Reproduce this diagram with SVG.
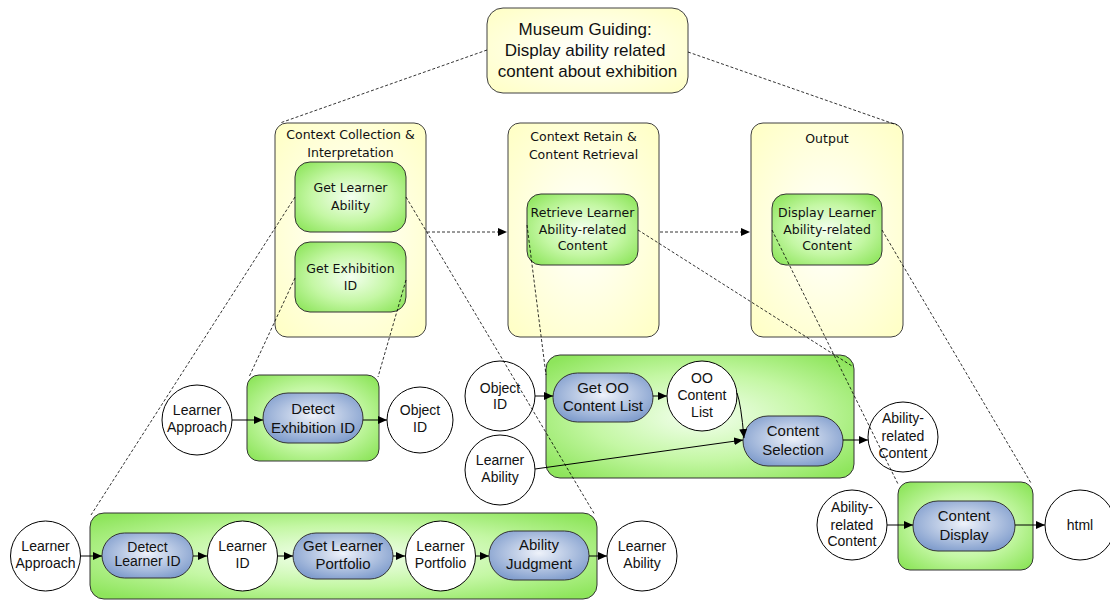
<svg xmlns="http://www.w3.org/2000/svg" width="1110" height="601" viewBox="0 0 1110 601">
  <defs>
    <radialGradient id="gYellow" cx="0.5" cy="0.5" r="0.7">
      <stop offset="0" stop-color="#ffffff"/>
      <stop offset="1" stop-color="#ffffc4"/>
    </radialGradient>
    <radialGradient id="gGreen" cx="0.5" cy="0.5" r="0.65">
      <stop offset="0" stop-color="#f4fff0"/>
      <stop offset="0.55" stop-color="#c4f7a4"/>
      <stop offset="1" stop-color="#8ee55c"/>
    </radialGradient>
    <radialGradient id="gBlue" cx="0.5" cy="0.45" r="0.6">
      <stop offset="0" stop-color="#eef2fa"/>
      <stop offset="1" stop-color="#7f9ccc"/>
    </radialGradient>
    <marker id="ah" viewBox="0 0 9 8" refX="9" refY="4" markerWidth="9" markerHeight="8" markerUnits="userSpaceOnUse" orient="auto">
      <path d="M0,0 L9,4 L0,8 z" fill="#000"/>
    </marker>
  </defs>
  <style>
    .yel { fill: url(#gYellow); stroke: #404040; stroke-width: 1; }
    .grn { fill: url(#gGreen); stroke: #333; stroke-width: 1; }
    .pill { fill: url(#gBlue); stroke: #333; stroke-width: 1; }
    .circ { fill: #fff; stroke: #000; stroke-width: 1; }
    .dash { fill: none; stroke: #000; stroke-width: 0.8; stroke-dasharray: 3 2; }
    .flow { fill: none; stroke: #000; stroke-width: 1; }
    text { fill: #111; text-anchor: middle; }
    .t { font-family: "DejaVu Sans", Verdana, sans-serif; font-size: 12.5px; }
    .a { font-family: "Liberation Sans", Arial, sans-serif; font-size: 14px; }
    .p { font-family: "Liberation Sans", Arial, sans-serif; font-size: 15px; }
  </style>

  <!-- top goal -->
  <g id="goal">
    <rect class="yel" x="487" y="8" width="201" height="85" rx="16"/>
    <text font-family="Liberation Sans, Arial, sans-serif" font-size="17">
      <tspan x="587.5" y="35">Museum Guiding:</tspan>
      <tspan x="587.5" y="56">Display ability related</tspan>
      <tspan x="587.5" y="77">content about exhibition</tspan>
    </text>
  </g>

  <!-- phase columns -->
  <g id="phase-context">
    <rect class="yel" x="275" y="123" width="151" height="214" rx="12"/>
    <text class="t"><tspan x="350.5" y="139">Context Collection &amp;</tspan><tspan x="350.5" y="157">Interpretation</tspan></text>
  </g>
  <g id="task-get-learner-ability">
    <rect class="grn" x="295" y="162" width="111" height="70" rx="15"/>
    <text class="t"><tspan x="350.5" y="192">Get Learner</tspan><tspan x="350.5" y="210">Ability</tspan></text>
  </g>
  <g id="task-get-exhibition-id">
    <rect class="grn" x="295" y="242" width="111" height="70" rx="15"/>
    <text class="t"><tspan x="350.5" y="273">Get Exhibition</tspan><tspan x="350.5" y="290">ID</tspan></text>
  </g>

  <g id="phase-retrieval">
    <rect class="yel" x="508" y="123" width="151" height="214" rx="12"/>
    <text class="t"><tspan x="583.5" y="141">Context Retain &amp;</tspan><tspan x="583.5" y="159">Content Retrieval</tspan></text>
  </g>
  <g id="task-retrieve">
    <rect class="grn" x="527" y="194" width="111" height="71" rx="14"/>
    <text class="t"><tspan x="582.5" y="217">Retrieve Learner</tspan><tspan x="582.5" y="233.5">Ability-related</tspan><tspan x="582.5" y="250">Content</tspan></text>
  </g>

  <g id="phase-output">
    <rect class="yel" x="751" y="123" width="152" height="214" rx="12"/>
    <text class="t" x="827" y="143">Output</text>
  </g>
  <g id="task-display">
    <rect class="grn" x="772" y="194" width="110" height="71" rx="14"/>
    <text class="t"><tspan x="827" y="217">Display Learner</tspan><tspan x="827" y="233.5">Ability-related</tspan><tspan x="827" y="250">Content</tspan></text>
  </g>

  <!-- exhibition id detection -->
  <g id="proc-exhibition">
    <rect class="grn" x="247" y="375" width="132" height="86" rx="12"/>
  </g>
  <g id="detect-exhibition-id">
    <rect class="pill" x="263" y="393" width="100" height="50" rx="25"/>
    <text class="p"><tspan x="313" y="414">Detect</tspan><tspan x="313" y="433">Exhibition ID</tspan></text>
  </g>
  <g id="in-learner-approach-1">
    <circle class="circ" cx="197" cy="420" r="35"/>
    <text class="a"><tspan x="197" y="415">Learner</tspan><tspan x="197" y="432">Approach</tspan></text>
  </g>
  <g id="out-object-id-1">
    <circle class="circ" cx="420" cy="420" r="33"/>
    <text class="a"><tspan x="420" y="415">Object</tspan><tspan x="420" y="432">ID</tspan></text>
  </g>

  <!-- content selection -->
  <g id="proc-selection">
    <rect class="grn" x="546" y="355" width="308" height="123" rx="14"/>
  </g>
  <g id="in-object-id-2">
    <circle class="circ" cx="500" cy="396" r="35"/>
    <text class="a"><tspan x="500" y="393">Object</tspan><tspan x="500" y="409">ID</tspan></text>
  </g>
  <g id="get-oo-content-list">
    <rect class="pill" x="553" y="373" width="100" height="49" rx="24.5"/>
    <text class="p"><tspan x="603" y="393">Get OO</tspan><tspan x="603" y="411">Content List</tspan></text>
  </g>
  <g id="oo-content-list">
    <circle class="circ" cx="702" cy="396" r="35"/>
    <text class="a"><tspan x="702" y="383">OO</tspan><tspan x="702" y="399.5">Content</tspan><tspan x="702" y="417">List</tspan></text>
  </g>
  <g id="content-selection">
    <rect class="pill" x="743" y="416" width="100" height="50" rx="25"/>
    <text class="p"><tspan x="793" y="436">Content</tspan><tspan x="793" y="455">Selection</tspan></text>
  </g>
  <g id="in-learner-ability-2">
    <circle class="circ" cx="500" cy="470" r="35"/>
    <text class="a"><tspan x="500" y="465">Learner</tspan><tspan x="500" y="482">Ability</tspan></text>
  </g>
  <g id="out-ability-content-1">
    <circle class="circ" cx="903" cy="437" r="35"/>
    <text class="a" font-size="13"><tspan x="903" y="423">Ability-</tspan><tspan x="903" y="440.5">related</tspan><tspan x="903" y="458">Content</tspan></text>
  </g>

  <!-- content display -->
  <g id="proc-display">
    <rect class="grn" x="898" y="482" width="135" height="88" rx="12"/>
  </g>
  <g id="content-display">
    <rect class="pill" x="913" y="501" width="102" height="50" rx="25"/>
    <text class="p"><tspan x="964" y="521">Content</tspan><tspan x="964" y="540">Display</tspan></text>
  </g>
  <g id="in-ability-content-2">
    <circle class="circ" cx="852" cy="525" r="35"/>
    <text class="a" font-size="13"><tspan x="852" y="512">Ability-</tspan><tspan x="852" y="529.5">related</tspan><tspan x="852" y="546">Content</tspan></text>
  </g>
  <g id="out-html">
    <circle class="circ" cx="1080" cy="525" r="35"/>
    <text class="a" x="1080" y="530">html</text>
  </g>

  <!-- learner ability judgment -->
  <g id="proc-ability">
    <rect class="grn" x="90" y="513" width="507" height="86" rx="14"/>
  </g>
  <g id="in-learner-approach-3">
    <circle class="circ" cx="45.5" cy="556" r="35"/>
    <text class="a"><tspan x="45.5" y="551">Learner</tspan><tspan x="45.5" y="568">Approach</tspan></text>
  </g>
  <g id="detect-learner-id">
    <rect class="pill" x="102" y="533" width="91" height="45" rx="22.5"/>
    <text class="a" font-size="12.5"><tspan x="147.5" y="552">Detect</tspan><tspan x="147.5" y="566">Learner ID</tspan></text>
  </g>
  <g id="learner-id">
    <circle class="circ" cx="242.5" cy="556" r="35"/>
    <text class="a" font-size="14.5"><tspan x="242.5" y="551">Learner</tspan><tspan x="242.5" y="568">ID</tspan></text>
  </g>
  <g id="get-learner-portfolio">
    <rect class="pill" x="293" y="533" width="100" height="46" rx="23"/>
    <text class="p"><tspan x="343" y="551">Get Learner</tspan><tspan x="343" y="569">Portfolio</tspan></text>
  </g>
  <g id="learner-portfolio">
    <circle class="circ" cx="440.5" cy="556" r="35"/>
    <text class="a"><tspan x="440.5" y="551">Learner</tspan><tspan x="440.5" y="568">Portfolio</tspan></text>
  </g>
  <g id="ability-judgment">
    <rect class="pill" x="489" y="531" width="100" height="49" rx="24.5"/>
    <text class="p"><tspan x="539" y="550">Ability</tspan><tspan x="539" y="569">Judgment</tspan></text>
  </g>
  <g id="out-learner-ability-3">
    <circle class="circ" cx="642" cy="556" r="35"/>
    <text class="a"><tspan x="642" y="551">Learner</tspan><tspan x="642" y="568">Ability</tspan></text>
  </g>

  <!-- flow connectors, with the dashed decomposition lines laid over the boxes -->
  <g id="connectors">
    <path class="dash" d="M487,50 L280,123"/>
    <path class="dash" d="M688,52 L897,125"/>
    <path class="dash" d="M295,197 L91,515"/>
    <path class="dash" d="M406,197 L595,515"/>
    <path class="dash" d="M295,278 L249,377"/>
    <path class="dash" d="M406,280 L378,377"/>
    <path class="dash" d="M527,225 L546,375"/>
    <path class="dash" d="M638,230 L852,366"/>
    <path class="dash" d="M772,230 L898,484"/>
    <path class="dash" d="M882,230 L1031,483"/>
    <path class="dash" d="M427,232 L507,232" marker-end="url(#ah)"/>
    <path class="dash" d="M660,232 L750,232" marker-end="url(#ah)"/>
    <path class="flow" d="M232,420 L263,420" marker-end="url(#ah)"/>
    <path class="flow" d="M363,420 L387,420" marker-end="url(#ah)"/>
    <path class="flow" d="M535,396 L553,396" marker-end="url(#ah)"/>
    <path class="flow" d="M653,396 L667,396" marker-end="url(#ah)"/>
    <path class="flow" d="M737,393 Q741,404 744,438" marker-end="url(#ah)"/>
    <path class="flow" d="M535,469 L743,440" marker-end="url(#ah)"/>
    <path class="flow" d="M843,440 L868,440" marker-end="url(#ah)"/>
    <path class="flow" d="M887,525 L913,525" marker-end="url(#ah)"/>
    <path class="flow" d="M1015,525 L1045,525" marker-end="url(#ah)"/>
    <path class="flow" d="M81,556 L102,556" marker-end="url(#ah)"/>
    <path class="flow" d="M193,556 L207,556" marker-end="url(#ah)"/>
    <path class="flow" d="M278,556 L293,556" marker-end="url(#ah)"/>
    <path class="flow" d="M393,556 L405,556" marker-end="url(#ah)"/>
    <path class="flow" d="M475,556 L489,556" marker-end="url(#ah)"/>
    <path class="flow" d="M589,556 L607,556" marker-end="url(#ah)"/>
  </g>
</svg>
